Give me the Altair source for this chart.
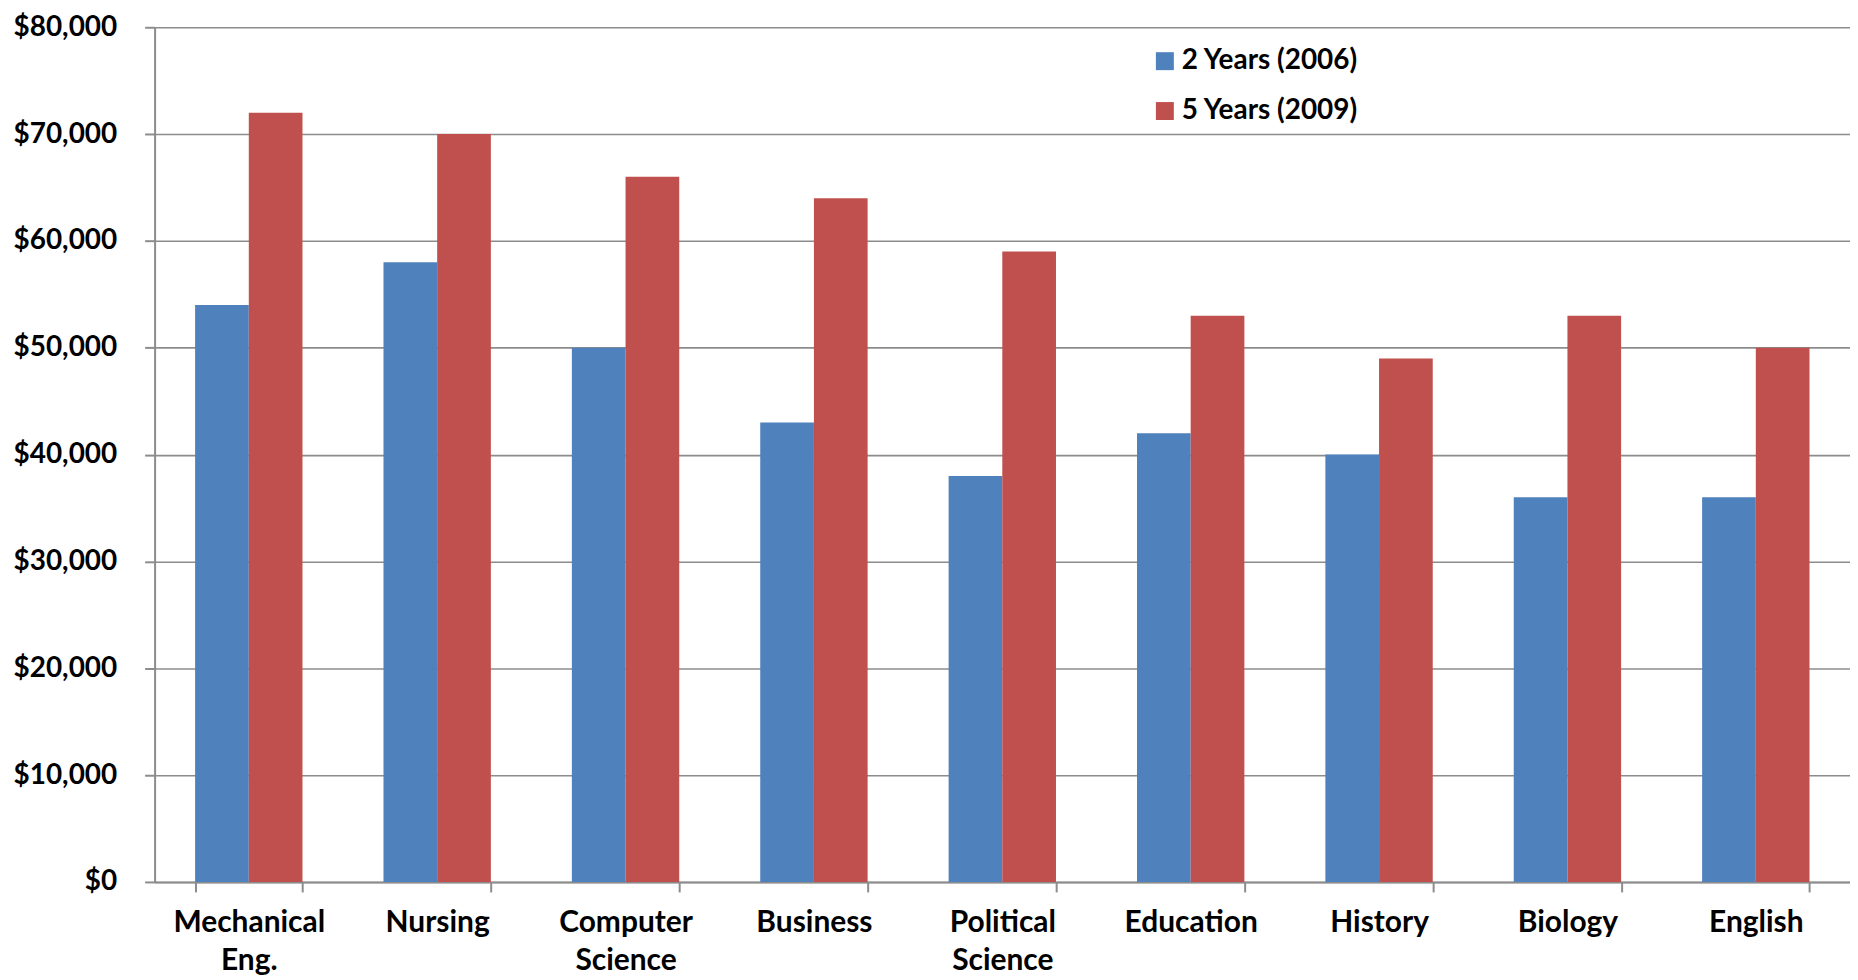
import altair as alt
import pandas as pd

majors = ["Mechanical Eng.", "Nursing", "Computer Science", "Business",
          "Political Science", "Education", "History", "Biology", "English"]
series = ["2 Years (2006)", "5 Years (2009)"]
salary_2yr = [54000, 58000, 50000, 43000, 38000, 42000, 40000, 36000, 36000]
salary_5yr = [72000, 70000, 66000, 64000, 59000, 53000, 49000, 53000, 50000]
y_ticks = [0, 10000, 20000, 30000, 40000, 50000, 60000, 70000, 80000]
colors = ["#4F81BD", "#C0504D"]

rows = []
for m, a, b in zip(majors, salary_2yr, salary_5yr):
    rows.append({"major": m, "series": series[0], "salary": a})
    rows.append({"major": m, "series": series[1], "salary": b})
df = pd.DataFrame(rows)

FONT = "Lato"
GRID = "#8c8c8c"
FS = 28

chart = alt.Chart(df).mark_bar().encode(
    x=alt.X("major:N", sort=majors, title=None,
            scale=alt.Scale(paddingInner=0.43, paddingOuter=0.215),
            axis=alt.Axis(labelAngle=0, labelExpr="split(datum.label, ' ')",
                          labelFont=FONT, labelFontSize=30, labelFontWeight="bold",
                          labelColor="#000000", labelLineHeight=38,
                          labelPadding=16, tickBand="extent", tickSize=10,
                          tickColor=GRID, tickWidth=2, domainColor=GRID,
                          domainWidth=2, grid=False)),
    xOffset=alt.XOffset("series:N", sort=series),
    y=alt.Y("salary:Q", title=None,
            scale=alt.Scale(domain=[0, 80000], nice=False),
            axis=alt.Axis(values=y_ticks, format="$,.0f",
                          labelFont=FONT, labelFontSize=FS, labelFontWeight="bold",
                          labelColor="#000000", labelPadding=28,
                          tickSize=10, tickColor=GRID, tickWidth=2,
                          domainColor=GRID, domainWidth=2,
                          grid=True, gridColor=GRID, gridWidth=1.6)),
    color=alt.Color("series:N", sort=series,
                    scale=alt.Scale(domain=series, range=colors),
                    legend=alt.Legend(title=None, orient="none",
                                      legendX=999, legendY=20,
                                      symbolType="square", symbolSize=324,
                                      symbolStrokeWidth=0, symbolOpacity=1,
                                      labelFont=FONT, labelFontSize=FS,
                                      labelFontWeight="bold", labelColor="#000000",
                                      labelLimit=0,
                                      rowPadding=22, labelOffset=3)),
).properties(
    width=1700, height=857,
    padding={"left": 5, "top": 4, "right": 0, "bottom": 0},
).configure_view(stroke=None).configure_legend(symbolFillColor=None)

chart.save("out.html", embed_options={"renderer": "svg", "actions": False})
